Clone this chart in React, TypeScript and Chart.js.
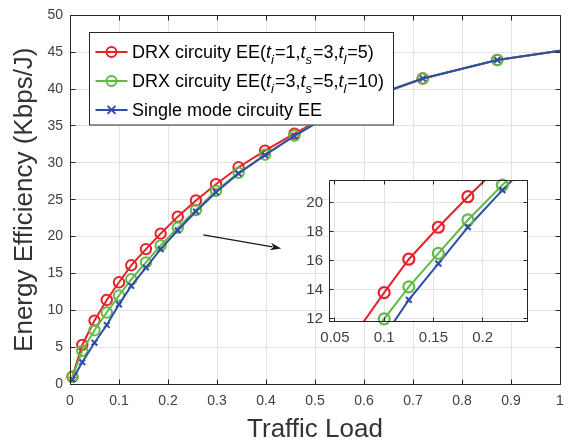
import React, { useEffect, useRef } from "react";
import { Chart, registerables } from "chart.js";

Chart.register(...registerables);

// ---------- data ----------
const trafficLoad = [0.005, 0.025, 0.05, 0.075, 0.1, 0.125, 0.155, 0.185, 0.22, 0.257, 0.298, 0.344, 0.398, 0.458, 0.53, 0.61, 0.72, 0.872, 1.0];
const drxEE1 = [1.0, 5.3, 8.6, 11.4, 13.8, 16.1, 18.3, 20.4, 22.7, 24.9, 27.1, 29.4, 31.65, 33.95, 36.6, 38.9, 41.44, 43.95, 45.2];
const drxEE2 = [1.0, 4.5, 7.3, 9.7, 12.0, 14.2, 16.5, 18.8, 21.2, 23.6, 26.2, 28.65, 31.1, 33.7, 36.5, 38.8, 41.44, 43.95, 45.2];
const singleEE = [0.6, 2.95, 5.6, 8.0, 10.8, 13.3, 15.8, 18.3, 20.85, 23.4, 26.0, 28.55, 31.05, 33.65, 36.45, 38.8, 41.44, 43.95, 45.2];
const seriesLabels = [
  "DRX circuity EE(t_i=1,t_s=3,t_l=5)",
  "DRX circuity EE(t_i=3,t_s=5,t_l=10)",
  "Single mode circuity EE",
];
const xTitle = "Traffic Load";
const yTitle = "Energy Efficiency (Kbps/J)";
const mainX = [0, 1];
const mainY = [0, 50];
const insetX = [0.044, 0.245];
const insetY = [11.85, 21.55];
const insetXTicks = [0.05, 0.1, 0.15, 0.2];
const insetYTicks = [12, 14, 16, 18, 20];
const arrowFrom = [0.272, 20.24];
const arrowTo = [0.431, 18.39];

// ---------- styles ----------
const FONT = "'Liberation Sans', Arial, Helvetica, sans-serif";
const RED = "#e8212b";
const GREEN = "#63b946";
const BLUE = "#2e4fa6";
const AXIS = "#262626";
const TICK_TXT = "#404040";
const GRID = "#e3e3e3";
const colors = [RED, GREEN, BLUE];
const styles = ["circle", "circle", "crossRot"];
const orders = [3, 2, 1];

const pts = (vals: number[]) => trafficLoad.map((x, i) => ({ x, y: vals[i] }));
const seriesVals = [drxEE1, drxEE2, singleEE];

const fmt = (v: any) => String(+Number(v).toFixed(2));

function framePlugin(tickLen: number, white: boolean) {
  return {
    id: "frame",
    beforeDraw(chart: any) {
      if (!white) return;
      const { left, right, top, bottom } = chart.chartArea;
      const ctx = chart.ctx;
      ctx.save();
      ctx.fillStyle = "#ffffff";
      ctx.fillRect(left, top, right - left, bottom - top);
      ctx.restore();
    },
    afterDatasetsDraw(chart: any) {
      const { left, right, top, bottom } = chart.chartArea;
      const ctx = chart.ctx;
      const a = (v: number) => Math.floor(v) + 0.5;
      ctx.save();
      ctx.strokeStyle = AXIS;
      ctx.lineWidth = 1;
      ctx.strokeRect(a(left), a(top), a(right) - a(left), a(bottom) - a(top));
      ctx.beginPath();
      const xs = chart.scales.x;
      xs.ticks.forEach((t: any) => {
        const p = a(xs.getPixelForValue(t.value));
        ctx.moveTo(p, a(bottom));
        ctx.lineTo(p, a(bottom) - tickLen);
        ctx.moveTo(p, a(top));
        ctx.lineTo(p, a(top) + tickLen);
      });
      const ys = chart.scales.y;
      ys.ticks.forEach((t: any) => {
        const p = a(ys.getPixelForValue(t.value));
        ctx.moveTo(a(left), p);
        ctx.lineTo(a(left) + tickLen, p);
        ctx.moveTo(a(right), p);
        ctx.lineTo(a(right) - tickLen, p);
      });
      ctx.stroke();
      ctx.restore();
    },
  };
}

const arrowPlugin = {
  id: "arrow",
  afterDatasetsDraw(chart: any) {
    const xs = chart.scales.x;
    const ys = chart.scales.y;
    const x1 = xs.getPixelForValue(arrowFrom[0]);
    const y1 = ys.getPixelForValue(arrowFrom[1]);
    const x2 = xs.getPixelForValue(arrowTo[0]);
    const y2 = ys.getPixelForValue(arrowTo[1]);
    const ang = Math.atan2(y2 - y1, x2 - x1);
    const hl = 11, hw = 3.8;
    const ctx = chart.ctx;
    ctx.save();
    ctx.strokeStyle = "#1a1a1a";
    ctx.fillStyle = "#1a1a1a";
    ctx.lineWidth = 1.2;
    ctx.beginPath();
    ctx.moveTo(x1, y1);
    ctx.lineTo(x2 - hl * 0.8 * Math.cos(ang), y2 - hl * 0.8 * Math.sin(ang));
    ctx.stroke();
    ctx.beginPath();
    ctx.moveTo(x2, y2);
    ctx.lineTo(x2 - hl * Math.cos(ang) + hw * Math.sin(ang), y2 - hl * Math.sin(ang) - hw * Math.cos(ang));
    ctx.lineTo(x2 - hl * 0.7 * Math.cos(ang), y2 - hl * 0.7 * Math.sin(ang));
    ctx.lineTo(x2 - hl * Math.cos(ang) - hw * Math.sin(ang), y2 - hl * Math.sin(ang) + hw * Math.cos(ang));
    ctx.closePath();
    ctx.fill();
    ctx.restore();
  },
};

function drawRich(ctx: CanvasRenderingContext2D, text: string, x: number, y: number) {
  const parts = text.split(/(t_[a-z])/);
  let cx = x;
  for (const p of parts) {
    if (!p) continue;
    const m = /^t_([a-z])$/.exec(p);
    if (m) {
      ctx.font = `italic 18px ${FONT}`;
      ctx.fillText("t", cx, y);
      cx += ctx.measureText("t").width;
      ctx.font = `italic 13px ${FONT}`;
      ctx.fillText(m[1], cx, y + 6);
      cx += ctx.measureText(m[1]).width + 1;
    } else {
      ctx.font = `18px ${FONT}`;
      ctx.fillText(p, cx, y);
      cx += ctx.measureText(p).width;
    }
  }
}

const legendPlugin = {
  id: "richLegend",
  afterDraw(chart: any) {
    const ctx = chart.ctx as CanvasRenderingContext2D;
    const { left, top } = chart.chartArea;
    const bx = left + 19.5, by = top + 17.5, bw = 304, bh = 92.5;
    ctx.save();
    ctx.fillStyle = "#ffffff";
    ctx.fillRect(bx, by, bw, bh);
    ctx.strokeStyle = AXIS;
    ctx.lineWidth = 1;
    ctx.strokeRect(Math.floor(bx) + 0.5, Math.floor(by) + 0.5, bw, bh);
    chart.data.datasets.forEach((ds: any, i: number) => {
      const cy = by + 19 + i * 29;
      ctx.strokeStyle = ds.borderColor;
      ctx.lineWidth = 2;
      ctx.beginPath();
      ctx.moveTo(bx + 6, cy);
      ctx.lineTo(bx + 38, cy);
      ctx.stroke();
      ctx.beginPath();
      if (ds.pointStyle === "crossRot") {
        const r = 4;
        ctx.moveTo(bx + 22 - r, cy - r);
        ctx.lineTo(bx + 22 + r, cy + r);
        ctx.moveTo(bx + 22 - r, cy + r);
        ctx.lineTo(bx + 22 + r, cy - r);
      } else {
        ctx.arc(bx + 22, cy, 5, 0, Math.PI * 2);
      }
      ctx.stroke();
      ctx.fillStyle = "#000000";
      ctx.textBaseline = "alphabetic";
      ctx.textAlign = "left";
      drawRich(ctx, ds.label, bx + 42.5, cy + 6.5);
    });
    ctx.restore();
  },
};

function MainChart() {
  const ref = useRef<HTMLCanvasElement>(null);
  useEffect(() => {
    const datasets = seriesVals.map((vals, i) => ({
      label: seriesLabels[i],
      data: pts(vals),
      borderColor: colors[i],
      backgroundColor: colors[i],
      borderWidth: 2,
      pointStyle: styles[i],
      pointRadius: trafficLoad.map((x) => (x >= 1 ? 0 : i === 2 ? 4 : 5.2)),
      pointBorderWidth: 2,
      pointBorderColor: colors[i],
      pointBackgroundColor: "rgba(0,0,0,0)",
      tension: 0,
      clip: false as any,
      order: orders[i],
    }));
    const chart = new Chart(ref.current!, {
      type: "line",
      data: { datasets },
      options: {
        animation: false,
        responsive: false,
        events: [],
        layout: { padding: { top: 6, right: 16, left: 0, bottom: 0 } },
        plugins: { legend: { display: false }, tooltip: { enabled: false } },
        scales: {
          x: {
            type: "linear",
            min: mainX[0],
            max: mainX[1],
            afterFit: (s: any) => { s.height = 62; },
            ticks: { stepSize: 0.1, color: TICK_TXT, font: { family: FONT, size: 14 }, padding: 9, callback: fmt, maxRotation: 0 },
            grid: { color: GRID, drawTicks: false, lineWidth: 1 },
            border: { display: false },
            title: { display: true, text: xTitle, color: "#333333", font: { family: FONT, size: 26, lineHeight: 1.2 }, padding: { top: 0, bottom: 1 } },
          },
          y: {
            type: "linear",
            min: mainY[0],
            max: mainY[1],
            afterFit: (s: any) => { s.width = 70; },
            ticks: { stepSize: 5, color: TICK_TXT, font: { family: FONT, size: 14 }, padding: 7 },
            grid: { color: GRID, drawTicks: false, lineWidth: 1 },
            border: { display: false },
            title: { display: true, text: yTitle, color: "#333333", font: { family: FONT, size: 26, lineHeight: 1.2 }, padding: { top: 9, bottom: 0 } },
          },
        },
      },
      plugins: [framePlugin(5, false), arrowPlugin, legendPlugin],
    } as any);
    return () => chart.destroy();
  }, []);
  return <canvas ref={ref} width={576} height={446} style={{ position: "absolute", left: 0, top: 0 }} />;
}

function InsetChart() {
  const ref = useRef<HTMLCanvasElement>(null);
  useEffect(() => {
    const lines = seriesVals.map((vals, i) => ({
      label: seriesLabels[i],
      data: pts(vals),
      borderColor: colors[i],
      borderWidth: 2,
      pointRadius: 0,
      tension: 0,
      order: orders[i] + 3,
    }));
    const markers = seriesVals.map((vals, i) => ({
      label: seriesLabels[i] + " markers",
      data: pts(vals).filter((p) => p.x >= insetX[0] && p.x <= insetX[1] && p.y >= insetY[0] && p.y <= insetY[1]),
      showLine: false,
      borderColor: colors[i],
      pointStyle: styles[i],
      pointRadius: i === 2 ? 4 : 5.5,
      pointBorderWidth: 2.2,
      pointBorderColor: colors[i],
      pointBackgroundColor: "rgba(0,0,0,0)",
      clip: false as any,
      order: orders[i],
    }));
    const chart = new Chart(ref.current!, {
      type: "line",
      data: { datasets: [...lines, ...markers] },
      options: {
        animation: false,
        responsive: false,
        events: [],
        layout: { padding: { top: 8, right: 13, left: 0, bottom: 0 } },
        plugins: { legend: { display: false }, tooltip: { enabled: false } },
        scales: {
          x: {
            type: "linear",
            min: insetX[0],
            max: insetX[1],
            bounds: "data",
            afterBuildTicks: (s: any) => { s.ticks = insetXTicks.map((v) => ({ value: v })); },
            afterFit: (s: any) => { s.height = 34; },
            ticks: { color: TICK_TXT, font: { family: FONT, size: 15 }, padding: 8, callback: fmt, maxRotation: 0, autoSkip: false },
            grid: { color: GRID, drawTicks: false },
            border: { display: false },
          },
          y: {
            type: "linear",
            min: insetY[0],
            max: insetY[1],
            bounds: "data",
            afterBuildTicks: (s: any) => { s.ticks = insetYTicks.map((v) => ({ value: v })); },
            afterFit: (s: any) => { s.width = 39; },
            ticks: { color: TICK_TXT, font: { family: FONT, size: 15 }, padding: 6, callback: fmt, autoSkip: false },
            grid: { color: GRID, drawTicks: false },
            border: { display: false },
          },
        },
      },
      plugins: [framePlugin(4, true)],
    } as any);
    return () => chart.destroy();
  }, []);
  return <canvas ref={ref} width={250} height={190} style={{ position: "absolute", left: 290, top: 165 }} />;
}

export default function App() {
  return (
    <div style={{ position: "fixed", left: 0, top: 0, width: 576, height: 446, background: "#ffffff" }}>
      <MainChart />
      <InsetChart />
    </div>
  );
}
